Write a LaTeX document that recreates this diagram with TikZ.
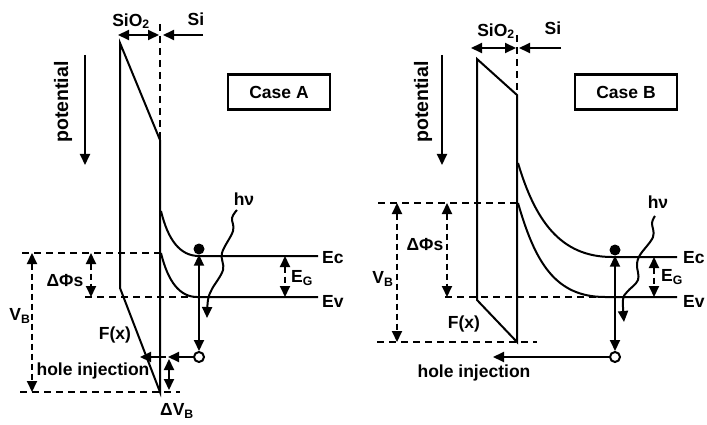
\documentclass[tikz,border=0pt]{standalone}
\usepackage{fontspec}
\setmainfont{Liberation Sans}
\usetikzlibrary{arrows.meta}

\begin{document}
\begin{tikzpicture}[
  x=1pt, y=-1pt,
  font=\fontsize{17.5}{20}\selectfont\bfseries,
  every node/.style={inner sep=0pt},
  ln/.style={line width=2pt},
  dsh/.style={ln, dash pattern=on 7pt off 5pt},
  arr/.style={ln, -{Triangle[length=11pt,width=10pt]}},
  dbl/.style={ln, {Triangle[length=11pt,width=10pt]}-{Triangle[length=11pt,width=10pt]}},
  ddbl/.style={dbl, dash pattern=on 6pt off 4pt},
  casebox/.style={draw, line width=2.4pt, minimum width=102pt, minimum height=35pt},
  electron/.style={circle, fill, minimum size=11pt},
  hole/.style={circle, draw, ln, fill=white, minimum size=10pt},
  rot/.style={rotate=90, font=\fontsize{19.5}{22}\selectfont\bfseries},
]
\useasboundingbox (0,0) rectangle (707,425);

\node (sio2A) at (131,21) {SiO\textsubscript{2}};
\node (siA) at (196,19) {Si};
\draw[dbl] (118,35) -- (159,35);
\draw[arr] (203,35) -- (163,35);
\draw[dsh] (160,24) -- (160,140);
\draw[ln] (160,140) -- (120,43) -- (120,288) -- (160,392) -- cycle;
\draw[ln] (161,211) .. controls (168,240) and (180,256) .. (199,256) -- (318,256);
\draw[ln] (161,253) .. controls (168,282) and (180,297) .. (197,297) -- (318,297);
\draw[dsh] (22,253) -- (160,253);
\draw[dsh] (85,297) -- (197,297);
\draw[dsh] (20,392) -- (180,392);
\draw[ddbl] (32,253) -- (32,392);
\draw[ddbl] (91,253) -- (91,297);
\draw[ddbl] (285,256) -- (285,297);
\node[electron] (eA) at (199,249) {};
\node[hole] (hA) at (199,357) {};
\draw[dbl] (eA.south) -- (hA.north);
\draw[arr] (hA.west) -- (168,357);
\draw[arr] (166,357) -- (140,357);
\draw[dbl] (169,359) -- (169,390);
\draw[arr] plot[smooth, tension=0.6] coordinates {(237,210) (232,218) (233,231) (222,253) (223,270) (212,289) (208,300) (207,318)};
\node (hnuA) at (244,199) {hν};
\node[anchor=west] (ecA) at (322,258) {Ec};
\node[anchor=west] (evA) at (322,301) {Ev};
\node (egA) at (302,278) {E\textsubscript{G}};
\node (dphiA) at (65,281) {ΔΦs};
\node (vbA) at (20,316) {V\textsubscript{B}};
\node (fxA) at (115,335) {F(x)};
\node (injA) at (93,371) {hole injection};
\node (dvbA) at (177,411) {ΔV\textsubscript{B}};
\node[casebox] (caseA) at (279,92) {Case A};
\node[rot] (potA) at (63,102) {potential};
\draw[arr] (85,55) -- (85,165);

\node (sio2B) at (496,31) {SiO\textsubscript{2}};
\node (siB) at (553,28) {Si};
\draw[dbl] (471,48) -- (516,48);
\draw[arr] (561,48) -- (519,48);
\draw[dsh] (517,35) -- (517,95);
\draw[ln] (517,95) -- (477,59) -- (477,300) -- (517,342) -- cycle;
\draw[ln] (518,163) .. controls (535,220) and (560,257) .. (612,257) -- (677,257);
\draw[ln] (518,203) .. controls (535,262) and (555,297) .. (605,297) -- (677,297);
\draw[dsh] (378,203) -- (517,203);
\draw[dsh] (445,297) -- (600,297);
\draw[dsh] (377,342) -- (537,342);
\draw[ddbl] (397,203) -- (397,342);
\draw[ddbl] (447,203) -- (447,297);
\draw[ddbl] (654,257) -- (654,297);
\node[electron] (eB) at (615,250) {};
\node[hole] (hB) at (615,357) {};
\draw[dbl] (eB.south) -- (hB.north);
\draw[arr] (hB.west) -- (493,357);
\draw[arr] plot[smooth, tension=0.6] coordinates {(655,216) (652,223) (653,237) (640,255) (637,265) (638,280) (627,292) (623,300) (624,322)};
\node (hnuB) at (658,202) {hν};
\node[anchor=west] (ecB) at (683,258) {Ec};
\node[anchor=west] (evB) at (683,301) {Ev};
\node (egB) at (672,277) {E\textsubscript{G}};
\node (dphiB) at (425,245) {ΔΦs};
\node (vbB) at (383,279) {V\textsubscript{B}};
\node (fxB) at (464,324) {F(x)};
\node (injB) at (474,373) {hole injection};
\node[casebox] (caseB) at (626,92) {Case B};
\node[rot] (potB) at (423,102) {potential};
\draw[arr] (442,55) -- (442,165);
\end{tikzpicture}
\end{document}
